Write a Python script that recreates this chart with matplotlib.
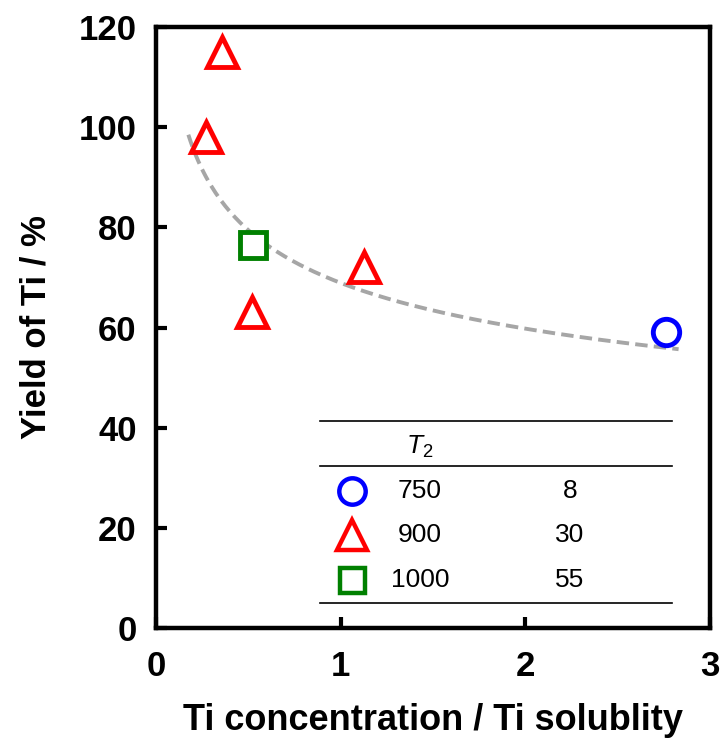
import numpy as np
import matplotlib
matplotlib.use('Agg')
import matplotlib.pyplot as plt

plt.rcParams['font.family'] = ['Liberation Sans', 'DejaVu Sans']
plt.rcParams['mathtext.fontset'] = 'custom'
plt.rcParams['mathtext.rm'] = 'Liberation Sans'
plt.rcParams['mathtext.it'] = 'Liberation Sans:italic'

# measured points: x = Ti concentration / Ti solubility, y = yield of Ti (%)
x_750 = [2.76]
y_750 = [59.1]
x_900 = [0.357, 0.27, 0.52, 1.126]
y_900 = [115.0, 98.0, 63.0, 72.0]
x_1000 = [0.525]
y_1000 = [76.4]

# power trendline y = a * x**b
trend_a = 68.9
trend_b = -0.205
trend_x = np.linspace(0.175, 2.83, 200)

# legend table rows: temperature T2 and second column value
leg_t2 = ['750', '900', '1000']
leg_val = ['8', '30', '55']

fig = plt.figure(figsize=(7.25, 7.45), dpi=100)
ax = fig.add_axes([0.2152, 0.157, 0.7641, 0.8068])

ax.plot(trend_x, trend_a * trend_x ** trend_b, ls=(0, (3.2, 1.6)), color='#A6A6A6', lw=2.8, zorder=1)

mk = dict(ls='none', mfc='white', mew=3.5, zorder=3)
ax.plot(x_750, y_750, marker='o', ms=19, mec='#0000FF', **mk)
ax.plot(x_900, y_900, marker='^', ms=21, mec='#FF0000', **mk)
ax.plot(x_1000, y_1000, marker='s', ms=19, mec='#008000', **mk)

ax.set_xlim(0, 3)
ax.set_ylim(0, 120)
ax.set_xticks([0, 1, 2, 3])
ax.set_yticks(range(0, 121, 20))
ax.tick_params(direction='in', length=8, width=3, labelsize=25, pad=14)
ax.tick_params(axis='x', pad=16)
for lab in ax.get_xticklabels() + ax.get_yticklabels():
    lab.set_fontweight('bold')
for sp in ax.spines.values():
    sp.set_linewidth(3.2)

ax.set_xlabel('Ti concentration / Ti solublity', fontsize=26, fontweight='bold', labelpad=14)
ax.set_ylabel('Yield of Ti / %', fontsize=25, fontweight='bold', labelpad=19)

# legend drawn as a small table in axes coordinates
tr = ax.transAxes
for yl in [0.3444, 0.2696, 0.0416]:
    ax.plot([0.296, 0.931], [yl, yl], color='black', lw=1.2, transform=tr, clip_on=False)
ax.text(0.4765, 0.301, '$\\mathit{T}_2$', fontsize=19, ha='center', va='center', transform=tr)
rows_y = [0.228, 0.1547, 0.0799]
styles = [('o', '#0000FF', 19), ('^', '#FF0000', 21), ('s', '#008000', 18)]
for yr, (m, c, s), t2, v in zip(rows_y, styles, leg_t2, leg_val):
    ax.plot([0.354], [yr], marker=m, ms=s, mec=c, mfc='white', mew=3.2, transform=tr, clip_on=False)
    ax.text(0.4765, yr, t2, fontsize=19, ha='center', va='center', transform=tr)
    ax.text(0.747, yr, v, fontsize=19, ha='center', va='center', transform=tr)

fig.savefig('out.png', dpi=100)
